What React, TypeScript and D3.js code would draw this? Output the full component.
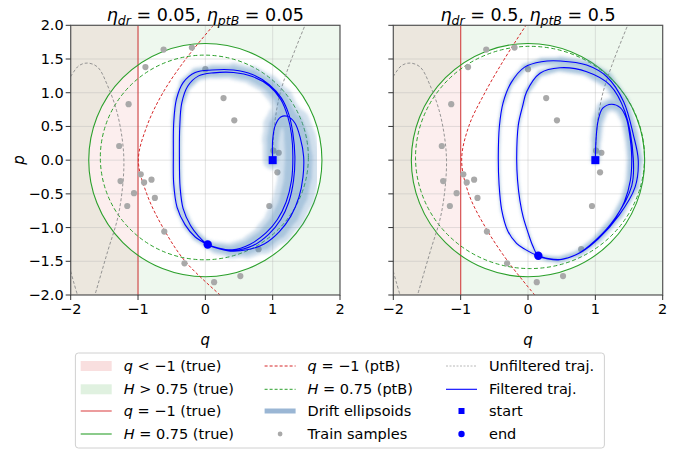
import React from 'react';
import * as d3 from 'd3';

const W = 688;
const H = 449;
const FONT = 'DejaVu Sans, sans-serif';

// ticks
const xTicks = [-2, -1, 0, 1, 2];
const yTicks = [-2, -1.5, -1, -0.5, 0, 0.5, 1, 1.5, 2];

// true boundaries: H = (q^2 + p^2) / 4
const hLevel = 0.75;
const qLevel = -1;

// training samples [q, p]
const trainSamples = [
  [-0.62, 1.64], [-0.2, 1.67], [-0.89, 1.38], [0.0, 1.35], [0.27, 0.92],
  [0.43, 0.59], [-1.14, 0.83], [-1.28, 0.21], [1.01, 0.14], [1.09, 0.11],
  [-0.96, -0.21], [-1.26, -0.31], [-0.91, -0.33], [-0.8, -0.29], [1.07, -0.18],
  [-1.06, -0.49], [-1.16, -0.68], [-0.75, -0.56], [0.95, -0.68], [-0.61, -1.06],
  [0.79, -1.32], [-0.31, -1.53], [0.52, -1.72], [0.13, -1.81],
];

// unfiltered trajectories (same in both panels)
const unfilteredA = [[1.0, 0.0], [1.01, 0.3], [1.04, 0.62], [1.1, 0.95], [1.16, 1.16], [1.28, 1.5], [1.48, 2.0]];
const unfilteredB = [
  [-2.0, 1.24], [-1.88, 1.4], [-1.75, 1.44], [-1.6, 1.38], [-1.45, 1.1], [-1.32, 0.74],
  [-1.24, 0.35], [-1.21, 0.0], [-1.23, -0.4], [-1.3, -0.85], [-1.45, -1.35], [-1.64, -2.0],
];
const unfilteredC = [[-2.0, -1.65], [-1.95, -1.83], [-1.9, -2.0]];

// ptB estimate of q = -1 boundary
const ptbQLeft = [[0.22, -2.0], [-0.3, -1.5], [-0.63, -1.0], [-0.87, -0.5], [-0.995, 0.0], [-0.87, 0.5], [-0.63, 1.0], [-0.29, 1.5], [0.12, 2.0]];
const ptbQRight = [[0.1, -2.0], [-0.3, -1.5], [-0.63, -1.0], [-0.88, -0.5], [-0.985, 0.0], [-0.88, 0.5], [-0.64, 1.0], [-0.35, 1.5], [-0.03, 2.0]];

// ptB estimate of H = 0.75 boundary: centre q, centre p, radius q, radius p
const ptbHLeft = [-0.015, 0.04, 1.545, 1.52];
const ptbHRight = [0.03, 0.04, 1.7, 1.65];

// filtered trajectories [q, p, ellipsoid radius]
const filteredLeft = [
  [1.0, 0.0, 0.14], [1.0, 0.3, 0.15], [1.04, 0.52, 0.17], [1.12, 0.64, 0.19], [1.22, 0.65, 0.2],
  [1.33, 0.55, 0.22], [1.41, 0.33, 0.23], [1.46, 0.05, 0.24], [1.45, -0.25, 0.24], [1.39, -0.55, 0.22],
  [1.27, -0.83, 0.2], [1.1, -1.06, 0.17], [0.88, -1.24, 0.14], [0.62, -1.33, 0.12], [0.37, -1.35, 0.1],
  [0.15, -1.3, 0.08], [0.03, -1.25, 0.06],
  [-0.15, -1.14, 0.05], [-0.3, -0.96, 0.04], [-0.42, -0.7, 0.035], [-0.47, -0.35, 0.03], [-0.475, 0.1, 0.03],
  [-0.47, 0.55, 0.03], [-0.43, 0.9, 0.04], [-0.33, 1.15, 0.05], [-0.15, 1.3, 0.07], [0.1, 1.337, 0.08],
  [0.42, 1.337, 0.1], [0.7, 1.27, 0.12], [0.95, 1.12, 0.14], [1.13, 0.92, 0.16], [1.24, 0.68, 0.18],
  [1.3, 0.4, 0.2], [1.33, 0.05, 0.22], [1.31, -0.3, 0.22], [1.24, -0.62, 0.21], [1.12, -0.88, 0.19],
  [0.94, -1.1, 0.16], [0.7, -1.27, 0.13], [0.42, -1.34, 0.1], [0.2, -1.31, 0.08], [0.03, -1.25, 0.06],
  [-0.1, -1.13, 0.05], [-0.22, -0.97, 0.04], [-0.33, -0.72, 0.035], [-0.375, -0.4, 0.03], [-0.385, 0.05, 0.03],
  [-0.38, 0.5, 0.03], [-0.35, 0.85, 0.04], [-0.26, 1.1, 0.05], [-0.1, 1.25, 0.07], [0.12, 1.295, 0.08],
  [0.42, 1.3, 0.1], [0.7, 1.24, 0.12], [0.95, 1.1, 0.14], [1.12, 0.9, 0.16], [1.22, 0.66, 0.18],
  [1.28, 0.38, 0.2], [1.3, 0.05, 0.21], [1.28, -0.3, 0.21], [1.2, -0.62, 0.2], [1.07, -0.88, 0.18],
  [0.9, -1.08, 0.15], [0.66, -1.25, 0.12], [0.4, -1.33, 0.1], [0.18, -1.3, 0.08], [0.035, -1.25, 0.06],
];

const filteredRight = [
  [1.0, 0.0, 0.07], [1.01, 0.3, 0.08], [1.04, 0.58, 0.09], [1.11, 0.77, 0.1], [1.24, 0.83, 0.1],
  [1.37, 0.78, 0.1], [1.46, 0.62, 0.09], [1.51, 0.37, 0.08], [1.54, 0.05, 0.08], [1.52, -0.3, 0.07],
  [1.43, -0.62, 0.07], [1.27, -0.9, 0.06], [1.05, -1.16, 0.06], [0.78, -1.37, 0.05], [0.5, -1.47, 0.05],
  [0.3, -1.46, 0.04], [0.15, -1.42, 0.03],
  [-0.05, -1.32, 0.02], [-0.17, -1.235, 0.02], [-0.3, -1.05, 0.02], [-0.39, -0.74, 0.02], [-0.43, -0.35, 0.02],
  [-0.441, 0.05, 0.02], [-0.425, 0.5, 0.02], [-0.37, 0.85, 0.03], [-0.25, 1.15, 0.04], [-0.05, 1.38, 0.05],
  [0.2, 1.46, 0.06], [0.48, 1.47, 0.07], [0.87, 1.41, 0.08], [1.17, 1.237, 0.09], [1.42, 0.866, 0.09],
  [1.565, 0.372, 0.08], [1.637, 0.0, 0.08], [1.59, -0.4, 0.07], [1.35, -0.82, 0.06], [1.04, -1.17, 0.06],
  [0.74, -1.39, 0.05], [0.45, -1.48, 0.05], [0.28, -1.46, 0.04], [0.15, -1.42, 0.03],
  [0.07, -1.27, 0.02], [0.004, -1.086, 0.02], [-0.07, -0.85, 0.02], [-0.12, -0.6, 0.02], [-0.155, -0.3, 0.02],
  [-0.168, 0.03, 0.02], [-0.144, 0.52, 0.02], [-0.08, 0.8, 0.03], [-0.02, 1.015, 0.04], [0.178, 1.288, 0.05],
  [0.475, 1.37, 0.06], [0.872, 1.312, 0.07], [1.217, 1.114, 0.08], [1.44, 0.718, 0.08], [1.563, 0.03, 0.08],
  [1.54, -0.38, 0.07], [1.3, -0.85, 0.06], [1.0, -1.19, 0.06], [0.72, -1.4, 0.05], [0.43, -1.48, 0.05],
  [0.26, -1.45, 0.04], [0.153, -1.418, 0.03],
];

const panelEta = ['0.05', '0.5'];

const panels = [
  { id: 'l', x0: 70.7, x1: 340, eta: panelEta[0], traj: filteredLeft, ptbQ: ptbQLeft, ptbH: ptbHLeft, yLabels: true },
  { id: 'r', x0: 393.3, x1: 662.7, eta: panelEta[1], traj: filteredRight, ptbQ: ptbQRight, ptbH: ptbHRight, yLabels: false },
];

const Y0 = 25.3;
const Y1 = 295;

const RED = '#d62728';
const GREEN = '#2ca02c';
const BLUE = '#0000ff';
const BAND = '#4f86b8';

const fmtY = (v: number) => (v < 0 ? '\u2212' : '') + Math.abs(v).toFixed(1);
const fmtX = (v: number) => (v < 0 ? '\u2212' : '') + Math.abs(v);

function Panel({ cfg }: any) {
  const x = d3.scaleLinear().domain([-2, 2]).range([cfg.x0, cfg.x1]);
  const y = d3.scaleLinear().domain([-2, 2]).range([Y1, Y0]);
  const k = x(1) - x(0);
  const line = d3.line<number[]>().x((d) => x(d[0])).y((d) => y(d[1]));
  const smooth = d3.line<number[]>().x((d) => x(d[0])).y((d) => y(d[1])).curve(d3.curveCatmullRom.alpha(0.5));
  const r = Math.sqrt(4 * hLevel);
  const clipId = 'clip-' + cfg.id;
  const cx = (cfg.x0 + cfg.x1) / 2;

  const outside =
    `M${x(-2)},${y(2)}H${x(2)}V${y(-2)}H${x(-2)}Z` +
    `M${x(-r)},${y(0)}A${k * r},${k * r} 0 1,0 ${x(r)},${y(0)}A${k * r},${k * r} 0 1,0 ${x(-r)},${y(0)}Z`;

  const traj = cfg.traj;
  const last = traj[traj.length - 1];
  const segs = traj.slice(1).map((d: number[], i: number) => [traj[i], d]);

  return (
    <g>
      <defs>
        <clipPath id={clipId}>
          <rect x={cfg.x0} y={Y0} width={cfg.x1 - cfg.x0} height={Y1 - Y0} />
        </clipPath>
        <filter id={'blur-' + cfg.id} x="-10%" y="-10%" width="120%" height="120%">
          <feGaussianBlur stdDeviation="1.6" />
        </filter>
      </defs>
      <g clipPath={`url(#${clipId})`}>
        <rect x={cfg.x0} y={Y0} width={cfg.x1 - cfg.x0} height={Y1 - Y0} fill="#fff" />
        <path d={outside} fill={GREEN} fillOpacity={0.08} fillRule="evenodd" />
        <rect x={x(-2)} y={Y0} width={x(qLevel) - x(-2)} height={Y1 - Y0} fill={RED} fillOpacity={0.08} />
        {xTicks.map((t) => (
          <line key={'gx' + t} x1={x(t)} x2={x(t)} y1={Y0} y2={Y1} stroke="#b0b0b0" strokeOpacity={0.35} strokeWidth={1} />
        ))}
        {yTicks.map((t) => (
          <line key={'gy' + t} x1={cfg.x0} x2={cfg.x1} y1={y(t)} y2={y(t)} stroke="#b0b0b0" strokeOpacity={0.35} strokeWidth={1} />
        ))}
        <line x1={x(qLevel)} x2={x(qLevel)} y1={Y0} y2={Y1} stroke={RED} strokeOpacity={0.7} strokeWidth={1.3} />
        <circle cx={x(0)} cy={y(0)} r={k * r} fill="none" stroke={GREEN} strokeWidth={1.1} />
        <path d={smooth(cfg.ptbQ) || ''} fill="none" stroke={RED} strokeWidth={1} strokeDasharray="3,2" />
        <ellipse
          cx={x(cfg.ptbH[0])}
          cy={y(cfg.ptbH[1])}
          rx={k * cfg.ptbH[2]}
          ry={k * cfg.ptbH[3]}
          fill="none"
          stroke={GREEN}
          strokeWidth={1}
          strokeDasharray="4,2.5"
        />
        {[unfilteredA, unfilteredB, unfilteredC].map((u, i) => (
          <path key={'u' + i} d={smooth(u) || ''} fill="none" stroke="#8a8a8a" strokeWidth={0.9} strokeDasharray="3,2" />
        ))}
        {trainSamples.map((d, i) => (
          <circle key={'s' + i} cx={x(d[0])} cy={y(d[1])} r={3.1} fill="#a9a9a9" />
        ))}
        <g filter={`url(#blur-${cfg.id})`}>
          <g opacity={0.26}>
            {segs.map((s: number[][], i: number) => (
              <path key={'b' + i} d={line(s) || ''} stroke={BAND} strokeWidth={(s[0][2] + s[1][2]) * k} strokeLinecap="round" fill="none" />
            ))}
          </g>
          <g opacity={0.3}>
            {segs.map((s: number[][], i: number) => (
              <path key={'c' + i} d={line(s) || ''} stroke={BAND} strokeWidth={(s[0][2] + s[1][2]) * k * 0.55} strokeLinecap="round" fill="none" />
            ))}
          </g>
        </g>
        <path d={smooth(traj.map((d: number[]) => [d[0], d[1]])) || ''} fill="none" stroke={BLUE} strokeWidth={1.1} />
        <rect x={x(traj[0][0]) - 4} y={y(traj[0][1]) - 4} width={8} height={8} fill={BLUE} />
        <circle cx={x(last[0])} cy={y(last[1])} r={4.2} fill={BLUE} />
      </g>
      <rect x={cfg.x0} y={Y0} width={cfg.x1 - cfg.x0} height={Y1 - Y0} fill="none" stroke="#555" strokeWidth={1.2} />
      {xTicks.map((t) => (
        <g key={'tx' + t}>
          <line x1={x(t)} x2={x(t)} y1={Y1} y2={Y1 + 5} stroke="#333" strokeWidth={1} />
          <text x={x(t)} y={313.5} textAnchor="middle" fontSize={14.5} fontFamily={FONT} fill="#000">
            {fmtX(t)}
          </text>
        </g>
      ))}
      {yTicks.map((t) => (
        <g key={'ty' + t}>
          <line x1={cfg.x0 - 5} x2={cfg.x0} y1={y(t)} y2={y(t)} stroke="#333" strokeWidth={1} />
          {cfg.yLabels && (
            <text x={cfg.x0 - 7} y={y(t) + 5} textAnchor="end" fontSize={14.5} fontFamily={FONT} fill="#000">
              {fmtY(t)}
            </text>
          )}
        </g>
      ))}
      <text x={cx} y={345} textAnchor="middle" fontSize={15} fontStyle="italic" fontFamily={FONT}>
        q
      </text>
      <text x={cx} y={20.5} textAnchor="middle" fontSize={17.5} fontFamily={FONT}>
        <tspan fontStyle="italic">η</tspan>
        <tspan fontStyle="italic" fontSize={12.5} dy={4}>dr</tspan>
        <tspan dy={-4}>{' = ' + cfg.eta + ', '}</tspan>
        <tspan fontStyle="italic">η</tspan>
        <tspan fontStyle="italic" fontSize={12.5} dy={4}>ptB</tspan>
        <tspan dy={-4}>{' = ' + cfg.eta}</tspan>
      </text>
    </g>
  );
}

const legendCols = [80.7, 264.6, 446];
const legendRows = [366, 389.3, 411, 434];

function Label({ x, y, math, rest }: any) {
  return (
    <text x={x} y={y + 5} fontSize={14.5} fontFamily={FONT}>
      {math && <tspan fontStyle="italic">{math}</tspan>}
      <tspan>{rest}</tspan>
    </text>
  );
}

function Legend() {
  const hw = 31;
  const tx = 43;
  const [c1, c2, c3] = legendCols;
  const [r1, r2, r3, r4] = legendRows;
  return (
    <g>
      <rect x={75.4} y={353} width={529} height={95} rx={3} fill="#fff" fillOpacity={0.8} stroke="#d0d0d0" strokeWidth={1} />
      <rect x={c1} y={r1 - 5} width={hw} height={10} fill={RED} fillOpacity={0.15} />
      <Label x={c1 + tx} y={r1} math="q" rest={' < \u22121 (true)'} />
      <rect x={c1} y={r2 - 5} width={hw} height={10} fill={GREEN} fillOpacity={0.15} />
      <Label x={c1 + tx} y={r2} math="H" rest={' > 0.75 (true)'} />
      <line x1={c1} x2={c1 + hw} y1={r3} y2={r3} stroke={RED} strokeOpacity={0.7} strokeWidth={1.3} />
      <Label x={c1 + tx} y={r3} math="q" rest={' = \u22121 (true)'} />
      <line x1={c1} x2={c1 + hw} y1={r4} y2={r4} stroke={GREEN} strokeWidth={1.1} />
      <Label x={c1 + tx} y={r4} math="H" rest={' = 0.75 (true)'} />

      <line x1={c2} x2={c2 + hw} y1={r1} y2={r1} stroke={RED} strokeWidth={1} strokeDasharray="3,2" />
      <Label x={c2 + tx} y={r1} math="q" rest={' = \u22121 (ptB)'} />
      <line x1={c2} x2={c2 + hw} y1={r2} y2={r2} stroke={GREEN} strokeWidth={1} strokeDasharray="3,2" />
      <Label x={c2 + tx} y={r2} math="H" rest={' = 0.75 (ptB)'} />
      <line x1={c2} x2={c2 + hw} y1={r3} y2={r3} stroke="#9ab6d4" strokeWidth={5} />
      <Label x={c2 + tx} y={r3} rest="Drift ellipsoids" />
      <circle cx={c2 + hw / 2} cy={r4} r={2.4} fill="#a9a9a9" />
      <Label x={c2 + tx} y={r4} rest="Train samples" />

      <line x1={c3} x2={c3 + hw} y1={r1} y2={r1} stroke="#b8b8b8" strokeWidth={1} strokeDasharray="2,1.5" />
      <Label x={c3 + tx} y={r1} rest="Unfiltered traj." />
      <line x1={c3} x2={c3 + hw} y1={r2} y2={r2} stroke={BLUE} strokeWidth={1.1} />
      <Label x={c3 + tx} y={r2} rest="Filtered traj." />
      <rect x={c3 + hw / 2 - 3} y={r3 - 3} width={6} height={6} fill={BLUE} />
      <Label x={c3 + tx} y={r3} rest="start" />
      <circle cx={c3 + hw / 2} cy={r4} r={3.2} fill={BLUE} />
      <Label x={c3 + tx} y={r4} rest="end" />
    </g>
  );
}

export default function App() {
  return (
    <svg width={W} height={H} style={{ position: 'absolute', left: 0, top: 0, background: '#fff' }}>
      {panels.map((p) => (
        <Panel key={p.id} cfg={p} />
      ))}
      <text x={19} y={160} transform="rotate(-90 19 160)" dy={5} textAnchor="middle" fontSize={15} fontStyle="italic" fontFamily={FONT}>
        p
      </text>
      <Legend />
    </svg>
  );
}
